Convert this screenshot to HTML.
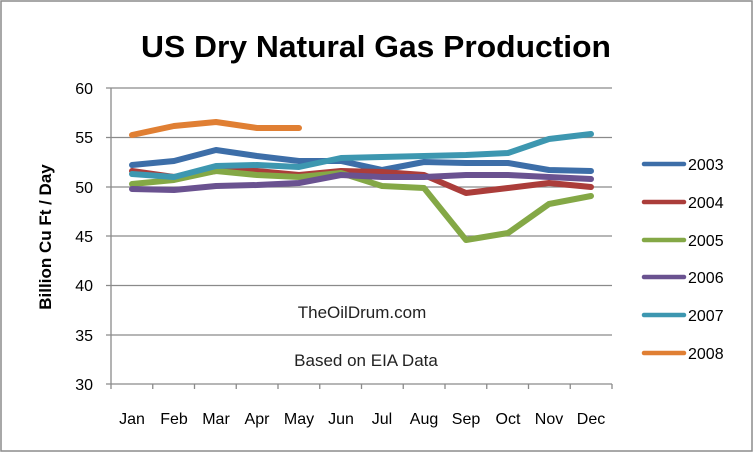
<!DOCTYPE html>
<html><head><meta charset="utf-8"><style>
html,body{margin:0;padding:0;background:#fff}
svg{display:block;font-family:"Liberation Sans",sans-serif}
</style></head><body>
<svg width="754" height="453" viewBox="0 0 754 453" xmlns="http://www.w3.org/2000/svg">
<rect x="1" y="1" width="751" height="450" fill="#fff" stroke="#8c8c8c" stroke-width="1.5"/>
<text x="376" y="57" text-anchor="middle" font-size="31" font-weight="bold" textLength="470" lengthAdjust="spacingAndGlyphs">US Dry Natural Gas Production</text>
<g stroke="#8a8a8a" stroke-width="1.3">
<line x1="106" y1="88" x2="612" y2="88"/>
<line x1="106" y1="137.5" x2="612" y2="137.5"/>
<line x1="106" y1="187" x2="612" y2="187"/>
<line x1="106" y1="236" x2="612" y2="236"/>
<line x1="106" y1="285.5" x2="612" y2="285.5"/>
<line x1="106" y1="335" x2="612" y2="335"/>
<line x1="106" y1="384" x2="612" y2="384"/>
<line x1="111" y1="88" x2="111" y2="389"/>
<line x1="152.75" y1="384" x2="152.75" y2="389"/><line x1="194.5" y1="384" x2="194.5" y2="389"/><line x1="236.25" y1="384" x2="236.25" y2="389"/><line x1="278" y1="384" x2="278" y2="389"/><line x1="319.75" y1="384" x2="319.75" y2="389"/><line x1="361.5" y1="384" x2="361.5" y2="389"/><line x1="403.25" y1="384" x2="403.25" y2="389"/><line x1="445" y1="384" x2="445" y2="389"/><line x1="486.75" y1="384" x2="486.75" y2="389"/><line x1="528.5" y1="384" x2="528.5" y2="389"/><line x1="570.25" y1="384" x2="570.25" y2="389"/><line x1="612" y1="384" x2="612" y2="389"/>
</g>
<g font-size="16" text-anchor="end">
<text x="93" y="94">60</text><text x="93" y="143">55</text><text x="93" y="193">50</text><text x="93" y="242">45</text><text x="93" y="291">40</text><text x="93" y="341">35</text><text x="93" y="390">30</text>
</g>
<g font-size="16" text-anchor="middle">
<text x="132" y="424">Jan</text><text x="174" y="424">Feb</text><text x="216" y="424">Mar</text><text x="257" y="424">Apr</text><text x="299" y="424">May</text><text x="341" y="424">Jun</text><text x="382" y="424">Jul</text><text x="424" y="424">Aug</text><text x="466" y="424">Sep</text><text x="508" y="424">Oct</text><text x="549" y="424">Nov</text><text x="591" y="424">Dec</text>
</g>
<text transform="translate(51,237) rotate(-90)" text-anchor="middle" font-size="17" font-weight="bold">Billion Cu Ft / Day</text>
<text x="362" y="318" text-anchor="middle" font-size="17" fill="#222">TheOilDrum.com</text>
<text x="366" y="366" text-anchor="middle" font-size="17" fill="#222">Based on EIA Data</text>
<g fill="none" stroke-width="6" stroke-linecap="round" stroke-linejoin="round">
<polyline stroke="#e07f33" points="132,135 174,126 216,122 257,128 299,128"/>
<polyline stroke="#3d6ea8" points="132,165 174,161 216,150 257,156 299,161 341,161 382,170 424,162 466,163 508,163 549,170 591,171"/>
<polyline stroke="#ab3d3a" points="132,171 174,177 216,171 257,171 299,175 341,171 382,172 424,175 466,193 508,188 549,183 591,187"/>
<polyline stroke="#84a846" points="132,184 174,180 216,171 257,175 299,177 341,173 382,186 424,188 466,240 508,233 549,204 591,196"/>
<polyline stroke="#6a5290" points="132,189 174,190 216,186 257,185 299,183 341,175 382,177 424,177 466,175 508,175 549,177 591,179"/>
<polyline stroke="#3d97b0" points="132,174 174,177 216,166 257,165 299,167 341,158 382,157 424,156 466,155 508,153 549,139 591,134"/>
</g>
<g stroke-width="4.5" stroke-linecap="round">
<line x1="644" y1="164" x2="684" y2="164" stroke="#3d6ea8"/>
<line x1="644" y1="202" x2="684" y2="202" stroke="#ab3d3a"/>
<line x1="644" y1="240" x2="684" y2="240" stroke="#84a846"/>
<line x1="644" y1="277" x2="684" y2="277" stroke="#6a5290"/>
<line x1="644" y1="315" x2="684" y2="315" stroke="#3d97b0"/>
<line x1="644" y1="353" x2="684" y2="353" stroke="#e07f33"/>
</g>
<g font-size="16">
<text x="688" y="170">2003</text><text x="688" y="208">2004</text><text x="688" y="246">2005</text><text x="688" y="283">2006</text><text x="688" y="321">2007</text><text x="688" y="359">2008</text>
</g>
</svg>
</body></html>
